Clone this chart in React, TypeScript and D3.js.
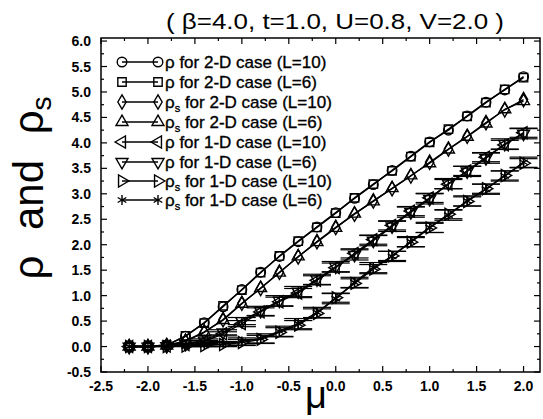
import React from 'react';
import * as d3 from 'd3';

// chemical potential values (x)
const mu = [-2.2, -2.0, -1.8, -1.6, -1.4, -1.2, -1.0, -0.8, -0.6, -0.4, -0.2, 0.0, 0.2, 0.4, 0.6, 0.8, 1.0, 1.2, 1.4, 1.6, 1.8, 2.0];

// series
const rho2D10 = [0, 0, 0.03, 0.2, 0.47, 0.78, 1.12, 1.46, 1.77, 2.06, 2.35, 2.63, 2.91, 3.18, 3.46, 3.74, 4.02, 4.25, 4.53, 4.8, 5.04, 5.3];
const rho2D6 = [0, 0, 0.03, 0.21, 0.46, 0.8, 1.11, 1.45, 1.78, 2.07, 2.34, 2.62, 2.92, 3.19, 3.45, 3.73, 4.01, 4.27, 4.52, 4.79, 5.05, 5.28];
const rhos2D10 = [0, 0, 0.02, 0.1, 0.28, 0.53, 0.85, 1.14, 1.46, 1.76, 2.06, 2.34, 2.6, 2.86, 3.1, 3.35, 3.62, 3.88, 4.13, 4.4, 4.65, 4.85];
const rhos2D6 = [0, 0, 0.02, 0.11, 0.29, 0.52, 0.84, 1.15, 1.45, 1.77, 2.05, 2.33, 2.61, 2.85, 3.11, 3.36, 3.6, 3.87, 4.12, 4.38, 4.66, 4.82];
const rho1D10 = [0, 0, 0.01, 0.04, 0.1, 0.25, 0.45, 0.68, 0.88, 1.05, 1.3, 1.55, 1.83, 2.1, 2.38, 2.66, 2.92, 3.19, 3.45, 3.72, 3.96, 4.2];
const rho1D6 = [0, 0, 0.01, 0.05, 0.12, 0.28, 0.5, 0.7, 0.9, 1.08, 1.32, 1.57, 1.8, 2.08, 2.36, 2.64, 2.9, 3.2, 3.44, 3.7, 3.98, 4.18];
const rhos1D10 = [0, 0, 0, 0.01, 0.02, 0.04, 0.08, 0.14, 0.28, 0.42, 0.65, 0.96, 1.24, 1.52, 1.78, 2.05, 2.33, 2.6, 2.85, 3.1, 3.36, 3.6];
const rhos1D6 = [0, 0, 0, 0.01, 0.03, 0.05, 0.1, 0.16, 0.3, 0.45, 0.67, 0.94, 1.26, 1.55, 1.77, 2.06, 2.34, 2.58, 2.86, 3.09, 3.35, 3.62];

// error bars on the 1-D runs
const err1D10 = [0, 0, 0, 0.01, 0.02, 0.04, 0.06, 0.08, 0.09, 0.09, 0.09, 0.09, 0.09, 0.09, 0.09, 0.09, 0.09, 0.09, 0.09, 0.09, 0.09, 0.09];
const err1D6 = [0, 0, 0, 0.01, 0.03, 0.05, 0.07, 0.09, 0.1, 0.1, 0.1, 0.1, 0.1, 0.1, 0.1, 0.1, 0.1, 0.1, 0.1, 0.1, 0.1, 0.1];

const xTicks = [-2.5, -2.0, -1.5, -1.0, -0.5, 0.0, 0.5, 1.0, 1.5, 2.0];
const yTicks = [-0.5, 0.0, 0.5, 1.0, 1.5, 2.0, 2.5, 3.0, 3.5, 4.0, 4.5, 5.0, 5.5, 6.0];

const series = [
  { name: 'ρ', sub: '', rest: ' for 2-D case (L=10)', values: rho2D10, marker: 'circle', err: null },
  { name: 'ρ', sub: '', rest: ' for 2-D case (L=6)', values: rho2D6, marker: 'square', err: null },
  { name: 'ρ', sub: 's', rest: '  for 2-D case (L=10)', values: rhos2D10, marker: 'diamond', err: null },
  { name: 'ρ', sub: 's', rest: '  for 2-D case (L=6)', values: rhos2D6, marker: 'up', err: null },
  { name: 'ρ', sub: '', rest: ' for 1-D case (L=10)', values: rho1D10, marker: 'left', err: err1D10 },
  { name: 'ρ', sub: '', rest: ' for 1-D case (L=6)', values: rho1D6, marker: 'down', err: err1D6 },
  { name: 'ρ', sub: 's', rest: '  for 1-D case (L=10)', values: rhos1D10, marker: 'right', err: err1D10 },
  { name: 'ρ', sub: 's', rest: '  for 1-D case (L=6)', values: rhos1D6, marker: 'star', err: err1D6 },
];

const W = 543;
const H = 419;
const left = 101;
const right = 540;
const top = 38;
const bottom = 372;
const font = '"Liberation Sans", Arial, sans-serif';

const markerPath = (type: string) => {
  const tri = d3.symbol().type(d3.symbolTriangle).size(62)();
  switch (type) {
    case 'circle':
      return { d: d3.symbol().type(d3.symbolCircle).size(72)(), rot: 0 };
    case 'square':
      return { d: d3.symbol().type(d3.symbolSquare).size(70)(), rot: 0 };
    case 'diamond':
      return { d: d3.symbol().type(d3.symbolDiamond).size(60)(), rot: 0 };
    case 'up':
      return { d: tri, rot: 0 };
    case 'left':
      return { d: tri, rot: -90 };
    case 'down':
      return { d: tri, rot: 180 };
    case 'right':
      return { d: tri, rot: 90 };
    default:
      return { d: d3.symbol().type(d3.symbolAsterisk).size(70)(), rot: 0 };
  }
};

function Marker({ type, x, y }: { type: string; x: number; y: number }) {
  const m = markerPath(type);
  return (
    <path
      d={m.d || ''}
      transform={`translate(${x},${y}) rotate(${m.rot})`}
      fill="none"
      stroke="#000"
      strokeWidth={1.4}
    />
  );
}

export default function App() {
  const x = d3.scaleLinear().domain([-2.5, -2.5 + (right - left) / 93.9]).range([left, right]);
  const y = d3.scaleLinear().domain([-0.5, 6.06]).range([bottom, top]);

  const line = d3
    .line<number>()
    .x((d, i) => x(mu[i]))
    .y((d) => y(d));

  const xMinor = d3.range(-2.5, 2.2, 0.25);
  const yMinor = d3.range(-0.5, 6.05, 0.25);

  const legendRows = [62, 82, 102, 122, 142, 162, 181, 200];

  return (
    <svg
      width={W}
      height={H}
      style={{ position: 'absolute', left: 0, top: 0, background: '#fff' }}
      fontFamily={font}
    >
      <rect x={0} y={0} width={W} height={H} fill="#fff" />

      {/* title */}
      <text x={335} y={29} textAnchor="middle" fontSize={22} textLength={338} lengthAdjust="spacingAndGlyphs">
        ( β=4.0, t=1.0, U=0.8, V=2.0 )
      </text>

      {/* frame */}
      <rect x={left} y={top} width={right - left} height={bottom - top} fill="none" stroke="#000" strokeWidth={1.5} />

      {/* ticks */}
      {xMinor.map((t, i) => {
        const major = Math.abs(t * 2 - Math.round(t * 2)) < 1e-6;
        const len = major ? 6 : 3;
        return (
          <g key={'xt' + i} stroke="#000" strokeWidth={1.2}>
            <line x1={x(t)} x2={x(t)} y1={bottom} y2={bottom - len} />
            <line x1={x(t)} x2={x(t)} y1={top} y2={top + len} />
          </g>
        );
      })}
      {yMinor.map((t, i) => {
        const major = Math.abs(t * 2 - Math.round(t * 2)) < 1e-6;
        const len = major ? 6 : 3;
        return (
          <g key={'yt' + i} stroke="#000" strokeWidth={1.2}>
            <line x1={left} x2={left + len} y1={y(t)} y2={y(t)} />
            <line x1={right} x2={right - len} y1={y(t)} y2={y(t)} />
          </g>
        );
      })}

      {/* tick labels */}
      {xTicks.map((t) => (
        <text key={'xl' + t} x={x(t)} y={391} textAnchor="middle" fontSize={14} fontWeight="bold">
          {t.toFixed(1)}
        </text>
      ))}
      {yTicks.map((t) => (
        <text key={'yl' + t} x={91} y={y(t) + 5} textAnchor="end" fontSize={14} fontWeight="bold">
          {t.toFixed(1)}
        </text>
      ))}

      {/* axis titles */}
      <text x={316} y={408} textAnchor="middle" fontSize={38}>
        μ
      </text>
      <text transform="translate(43,188) rotate(-90)" textAnchor="middle" fontSize={42} wordSpacing={14}>
        ρ and ρ<tspan fontSize={28} dy={8}>s</tspan>
      </text>

      {/* data */}
      {series.map((s, si) => (
        <g key={'s' + si}>
          <path d={line(s.values) || ''} fill="none" stroke="#000" strokeWidth={1.4} />
          {s.err &&
            s.values.map((v, i) => {
              const e = s.err![i];
              if (e <= 0) return null;
              const cx = x(mu[i]);
              return (
                <g key={'e' + i} stroke="#000" strokeWidth={1.2}>
                  <line x1={cx} x2={cx} y1={y(v - e)} y2={y(v + e)} />
                  <line x1={cx - 14} x2={cx + 14} y1={y(v - e)} y2={y(v - e)} />
                  <line x1={cx - 14} x2={cx + 14} y1={y(v + e)} y2={y(v + e)} />
                </g>
              );
            })}
          {s.values.map((v, i) => (
            <Marker key={'m' + i} type={s.marker} x={x(mu[i])} y={y(v)} />
          ))}
        </g>
      ))}

      {/* legend */}
      {series.map((s, i) => {
        const ly = legendRows[i];
        return (
          <g key={'lg' + i}>
            <line x1={122} x2={158} y1={ly} y2={ly} stroke="#000" strokeWidth={1.4} />
            <Marker type={s.marker} x={122} y={ly} />
            <Marker type={s.marker} x={158} y={ly} />
            <text x={165} y={ly + 6} fontSize={17} stroke="#000" strokeWidth={0.35}>
              {s.name}
              {s.sub && (
                <tspan fontSize={11} dy={4}>
                  {s.sub}
                </tspan>
              )}
              <tspan dy={s.sub ? -4 : 0}>{s.rest}</tspan>
            </text>
          </g>
        );
      })}
    </svg>
  );
}
